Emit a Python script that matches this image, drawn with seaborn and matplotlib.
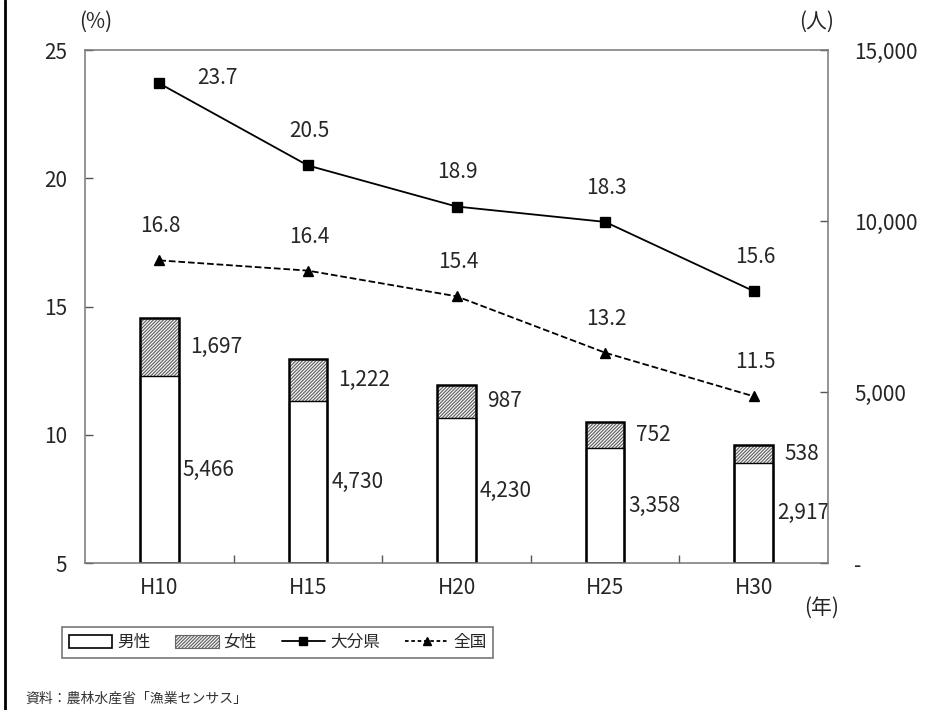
import numpy as np
import seaborn as sns
import matplotlib
matplotlib.use('Agg')
import matplotlib.pyplot as plt
from matplotlib.patches import Patch
from matplotlib.lines import Line2D

# data
years = ['H10', 'H15', 'H20', 'H25', 'H30']
male = [5466, 4730, 4230, 3358, 2917]
female = [1697, 1222, 987, 752, 538]
oita = [23.7, 20.5, 18.9, 18.3, 15.6]
zenkoku = [16.8, 16.4, 15.4, 13.2, 11.5]
right_ticks = [0, 5000, 10000, 15000]
right_labels = ['-', '5,000', '10,000', '15,000']

sns.set_style('white')
plt.rcParams['font.family'] = ['Noto Sans CJK JP', 'DejaVu Sans']
plt.rcParams['hatch.linewidth'] = 0.9

total = np.array(male) + np.array(female)

fig = plt.figure(figsize=(9.33, 7.10), dpi=100)
ax = fig.add_axes([0.0911, 0.2070, 0.7964, 0.7225])
ax2 = ax.twinx()
ax.set_zorder(ax2.get_zorder() + 1)
ax.patch.set_visible(False)

bw = 0.26
hatch = '/' * 10
# bars on the right axis (persons)
sns.barplot(x=years, y=total, ax=ax2, color='white', width=bw, hatch=hatch, linewidth=0)
sns.barplot(x=years, y=male, ax=ax2, color='white', width=bw, linewidth=0)
for p in ax2.patches[:len(years)]:
    p.set_edgecolor('#666666')
for p in ax2.patches[len(years):]:
    p.set_edgecolor('black')
    p.set_linewidth(1.0)
sns.barplot(x=years, y=total, ax=ax2, fill=False, color='black', width=bw, linewidth=1.8)

# lines on the left axis (percent)
sns.pointplot(x=years, y=oita, ax=ax, color='black', markers='s', linestyles='-',
              markersize=6.5, linewidth=1.3)
sns.pointplot(x=years, y=zenkoku, ax=ax, color='black', markers='^', linestyles='--',
              markersize=6.5, linewidth=1.3)
ax.lines[-1].set_dashes([3, 2])

for i, v in enumerate(oita):
    off = (42, 4) if i == 0 else (1, 24.5)
    ax.annotate(f'{v:.1f}', xy=(i, v), xytext=off, textcoords='offset points',
                ha='center', va='center', fontsize=15)
for i, v in enumerate(zenkoku):
    ax.annotate(f'{v:.1f}', xy=(i, v), xytext=(1, 24.5), textcoords='offset points',
                ha='center', va='center', fontsize=15)

for i in range(len(years)):
    ax2.annotate(f'{female[i]:,}', xy=(i + bw / 2, male[i] + female[i] / 2), xytext=(8, 0),
                 textcoords='offset points', ha='left', va='center', fontsize=15)
    ax2.annotate(f'{male[i]:,}', xy=(i + bw / 2, male[i] / 2), xytext=(3, 0),
                 textcoords='offset points', ha='left', va='center', fontsize=15)

ax.set_ylim(5, 25)
ax.set_yticks([5, 10, 15, 20, 25])
ax2.set_ylim(0, 15000)
ax2.set_yticks(right_ticks)
ax2.set_yticklabels(right_labels)
ax.set_xlim(-0.5, 4.5)
ax.set_xlabel('')
ax.set_ylabel('')
ax2.set_ylabel('')

ax.tick_params(axis='y', direction='in', length=6, width=1, color='#555555', pad=13,
               labelsize=15, left=True)
ax2.tick_params(axis='y', direction='in', length=6, width=1, color='#555555', pad=19,
                labelsize=15, right=True)
ax.tick_params(axis='x', which='major', length=0, pad=10, labelsize=15)
ax.set_xticks([0.5, 1.5, 2.5, 3.5], minor=True)
ax.tick_params(axis='x', which='minor', direction='in', length=6, width=1, color='#555555',
               bottom=True)

for s in ax.spines.values():
    s.set_visible(True)
    s.set_color('#777777')
    s.set_linewidth(1.1)
for s in ax2.spines.values():
    s.set_visible(False)

fig.text(0.103, 0.969, '(%)', ha='center', va='center', fontsize=15)
fig.text(0.875, 0.969, '(人)', ha='center', va='center', fontsize=15)
fig.text(0.881, 0.144, '(年)', ha='center', va='center', fontsize=15)

handles = [
    Patch(facecolor='white', edgecolor='black', linewidth=1.2),
    Patch(facecolor='white', edgecolor='#666666', hatch=hatch, linewidth=0.8),
    Line2D([], [], color='black', marker='s', markersize=6, linewidth=1.3),
    Line2D([], [], color='black', marker='^', markersize=6, linewidth=1.3, dashes=[2, 1.5]),
]
labels = ['男性', '女性', '大分県', '全国']
leg = fig.legend(handles, labels, loc='center', ncol=4, mode='expand',
                 bbox_to_anchor=(0.0665, 0.0662, 0.462, 0.0577), frameon=True,
                 fancybox=False, edgecolor='#555555', fontsize=12, handlelength=2.6,
                 handleheight=0.8, handletextpad=0.3, borderaxespad=0)
leg.get_frame().set_linewidth(1.2)

fig.text(0.027, 0.016, '資料：農林水産省「漁業センサス」', ha='left', va='center',
         fontsize=10, color='#333333')
fig.add_artist(Line2D([0.005, 0.005], [0, 1], transform=fig.transFigure,
                      color='black', linewidth=2))

fig.savefig('out.png', dpi=100)
